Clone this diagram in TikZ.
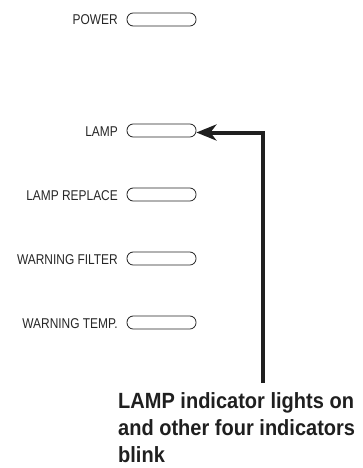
\documentclass[tikz,border=0pt]{standalone}
\usepackage{fontspec}
\setmainfont{Liberation Sans}
\newfontfamily\labelfont[FakeStretch=0.84]{Liberation Sans}
\newfontfamily\calloutfont[FakeStretch=0.91]{Liberation Sans Bold}
\usetikzlibrary{arrows.meta}
\begin{document}
\begin{tikzpicture}[x=1pt,y=-1pt,
  capsule/.style={draw=black!85, line width=0.8pt, rounded corners=6.2pt,
    minimum width=69pt, minimum height=13pt, inner sep=0pt},
  lbl/.style={anchor=base east, inner sep=0pt, font=\labelfont\fontsize{14.2}{16}\selectfont, text=black!85},
  callout/.style={anchor=base west, inner sep=0pt, align=left,
    font=\calloutfont\fontsize{22}{27}\selectfont, text=black!88},
  pointer/.style={draw=black!88, line width=4pt,
    -{Stealth[length=20pt,width=16pt,inset=6pt]}}]
\useasboundingbox (0,0) rectangle (363,468);
\node[capsule] (powercap) at (161.5,19.5) {};
\node[capsule] (lampcap) at (161.5,130.5) {};
\node[capsule] (replcap) at (161.5,194.5) {};
\node[capsule] (filtcap) at (161.5,258.5) {};
\node[capsule] (tempcap) at (161.5,322.5) {};
\node[lbl] (powerlbl) at (118,25) {POWER};
\node[lbl] (lamplbl) at (118,136) {LAMP};
\node[lbl] (repllbl) at (118,200) {LAMP REPLACE};
\node[lbl] (filtlbl) at (118,264) {WARNING FILTER};
\node[lbl] (templbl) at (118,328) {WARNING TEMP.};
\node[callout] (note) at (118,462) {LAMP indicator lights on\\and other four indicators\\blink};
\coordinate (start) at (262.5,383);
\draw[pointer] (start) |- ([yshift=-2pt]lampcap.east);
\end{tikzpicture}
\end{document}
